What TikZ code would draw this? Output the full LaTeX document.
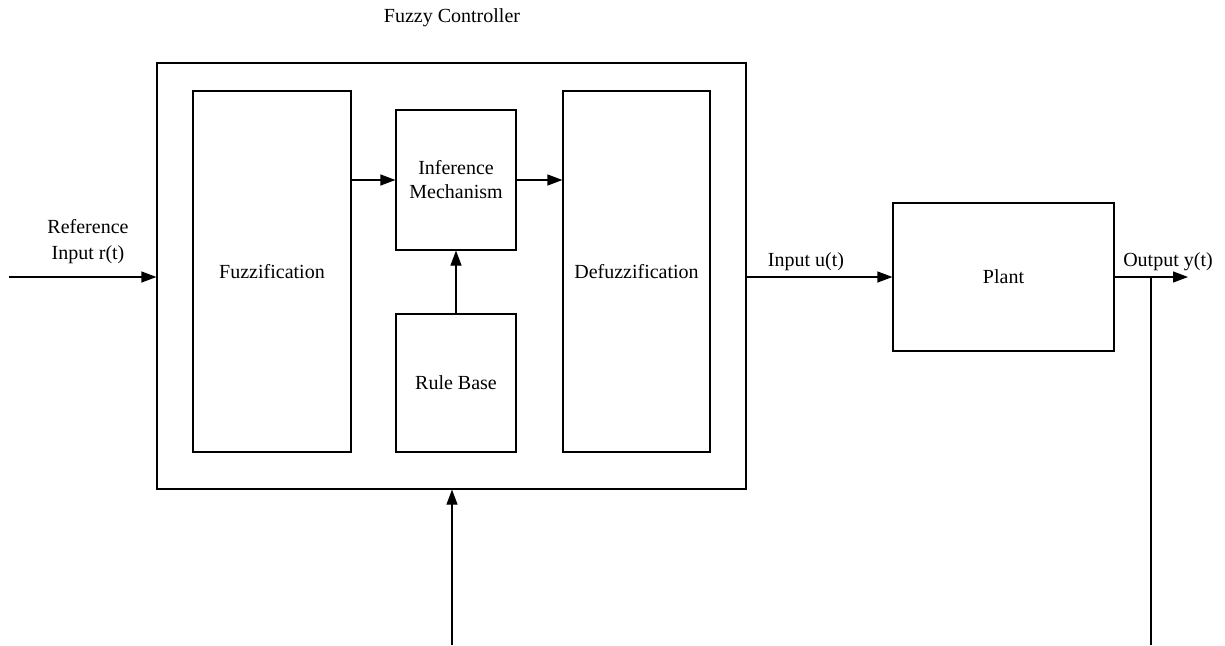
\documentclass[tikz,border=0pt]{standalone}
\usepackage{fontspec}
\setmainfont{Liberation Serif}
\usetikzlibrary{arrows.meta}
\begin{document}
\begin{tikzpicture}[x=1pt,y=-1pt,
  every node/.style={font=\fontsize{20}{24}\selectfont},
  blk/.style={draw, line width=1.2pt, rectangle, inner sep=0pt, align=center},
  conn/.style={line width=1.2pt},
  arr/.style={conn, -{Triangle[length=15pt,width=11pt]}},
  lbl/.style={inner sep=0pt, align=center}]
\useasboundingbox (0,0) rectangle (1225,645);
% blocks
\node[blk, minimum width=589pt, minimum height=426pt] (outer) at (451.5,276) {};
\node[blk, minimum width=158pt, minimum height=361pt] (fuzz) at (272,271.5) {Fuzzification};
\node[blk, minimum width=120pt, minimum height=140pt] (inf) at (456,180) {Inference\\Mechanism};
\node[blk, minimum width=120pt, minimum height=138pt] (rule) at (456,383) {Rule Base};
\node[blk, minimum width=147pt, minimum height=361pt] (defuzz) at (636.5,271.5) {Defuzzification};
\node[blk, minimum width=221pt, minimum height=148pt] (plant) at (1003.5,277) {Plant};
% labels
\node[lbl, anchor=base] (title) at (452,23) {Fuzzy Controller};
\node[lbl, font=\fontsize{20}{26}\selectfont] (reflbl) at (88,242) {Reference\\Input r(t)};
\node[lbl, anchor=base] (ulbl) at (806,266) {Input u(t)};
\node[lbl, anchor=base] (ylbl) at (1168,266) {Output y(t)};
% coordinates
\coordinate (refin) at (9,277);
\coordinate (yout) at (1188,277);
\coordinate (tap) at (1151,277);
\coordinate (tapend) at (1151,645);
\coordinate (fb) at (452,645);
% connectors
\draw[arr] (refin) -- (refin -| outer.west);
\draw[arr] (fuzz.east |- inf.west) -- (inf.west);
\draw[arr] (inf.east) -- (inf.east -| defuzz.west);
\draw[arr] (rule.north) -- (inf.south);
\draw[arr] (outer.east |- plant.west) -- (plant.west);
\draw[arr] (plant.east) -- (yout);
\draw[conn] (tap) -- (tapend);
\draw[arr] (fb) -- (fb |- outer.south);
\end{tikzpicture}
\end{document}
